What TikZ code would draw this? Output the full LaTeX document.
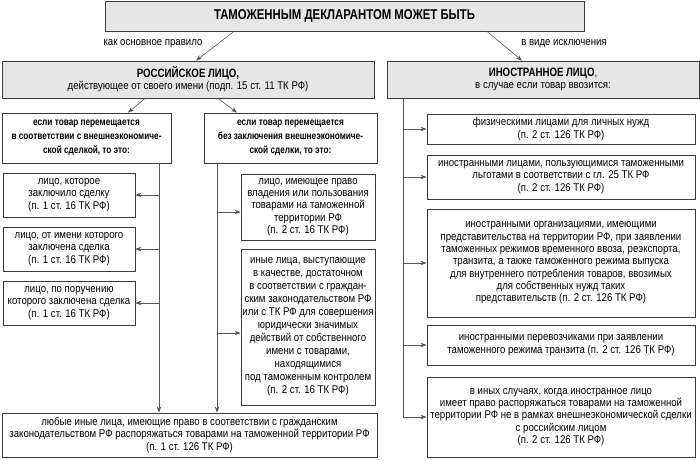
\documentclass[tikz,border=0pt]{standalone}
\usepackage{fontspec}
\setmainfont{Liberation Sans}[FakeStretch=0.86, BoldFeatures={FakeStretch=0.8}]
\usetikzlibrary{arrows.meta,calc}
\definecolor{graybg}{HTML}{E6E6E6}
\definecolor{boxc}{HTML}{3A3A3A}
\definecolor{linec}{HTML}{555555}
\newcommand\bx[7]{\node[#2, minimum width={#5-#3}, minimum height={#6-#4}] (#1) at ({(#3+#5)/2},{(#4+#6)/2}) {#7};}
\tikzset{
  box/.style={draw=boxc, line width=0.8pt, fill=white, inner sep=0pt, align=center, text=black,
    font=\fontsize{11.2}{12.3}\selectfont},
  gbox/.style={box, fill=graybg},
  cbox/.style={box, font=\fontsize{10.3}{13.8}\selectfont\bfseries},
  arr/.style={draw=linec, line width=0.6pt, -{Stealth[length=6pt,width=4.5pt]}},
  lbl/.style={inner sep=0pt, font=\fontsize{11.2}{12.3}\selectfont}
}
\begin{document}
\begin{tikzpicture}[x=1pt,y=-1pt]
\useasboundingbox (0,0) rectangle (700,460);
\bx{top}{gbox}{105}{1}{584}{31}{\fontsize{14.2}{16}\selectfont\bfseries ТАМОЖЕННЫМ ДЕКЛАРАНТОМ МОЖЕТ БЫТЬ}
\bx{rus}{gbox}{2}{61}{374}{98}{{\fontsize{12.1}{14}\selectfont\bfseries РОССИЙСКОЕ ЛИЦО,}\\действующее от своего имени (подп. 15 ст. 11 ТК РФ)}
\bx{for}{gbox}{387}{61}{699}{98}{{\fontsize{12.1}{14}\selectfont\bfseries ИНОСТРАННОЕ ЛИЦО},\\в случае если товар ввозится:}
\bx{c1}{cbox}{2}{113}{171}{163}{если товар перемещается\\в соответствии с внешнеэкономиче-\\ской сделкой, то это:}
\bx{c2}{cbox}{204}{113}{377}{163}{если товар перемещается\\без заключения внешнеэкономиче-\\ской сделки, то это:}
\bx{L1}{box}{3}{173}{135}{217}{лицо, которое\\заключило сделку\\(п. 1 ст. 16 ТК РФ)}
\bx{L2}{box}{3}{227}{135}{271}{лицо, от имени которого\\заключена сделка\\(п. 1 ст. 16 ТК РФ)}
\bx{L3}{box}{3}{281}{135}{325}{лицо, по поручению\\которого заключена сделка\\(п. 1 ст. 16 ТК РФ)}
\bx{A}{box}{241}{174}{375}{240}{лицо, имеющее право\\владения или пользования\\товарами на таможенной\\территории РФ\\(п. 2 ст. 16 ТК РФ)}
\bx{B}{box, font=\fontsize{11.2}{13}\selectfont}{241}{249}{375}{405}{иные лица, выступающие\\в качестве, достаточном\\в соответствии с граждан-\\ским законодательством РФ\\или с ТК РФ для совершения\\юридически значимых\\действий от собственного\\имени с товарами,\\находящимися\\под таможенным контролем\\(п. 2 ст. 16 ТК РФ)}
\bx{bot}{box}{2}{413}{377}{457}{любые иные лица, имеющие право в соответствии с гражданским\\законодательством РФ распоряжаться товарами на таможенной территории РФ\\(п. 1 ст. 126 ТК РФ)}
\bx{F1}{box}{427}{114}{695}{144}{физическими лицами для личных нужд\\(п. 2 ст. 126 ТК РФ)}
\bx{F2}{box}{427}{155}{695}{199}{иностранными лицами, пользующимися таможенными\\льготами в соответствии с гл. 25 ТК РФ\\(п. 2 ст. 126 ТК РФ)}
\bx{F3}{box}{427}{209}{695}{317}{иностранными организациями, имеющими\\представительства на территории РФ, при заявлении\\таможенных режимов временного ввоза, реэкспорта,\\транзита, а также таможенного режима выпуска\\для внутреннего потребления товаров, ввозимых\\для собственных нужд таких\\представительств (п. 2 ст. 126 ТК РФ)}
\bx{F4}{box}{427}{325}{695}{365}{иностранными перевозчиками при заявлении\\таможенного режима транзита (п. 2 ст. 126 ТК РФ)}
\bx{F5}{box}{427}{377}{695}{457}{в иных случаях, когда иностранное лицо\\имеет право распоряжаться товарами на таможенной\\территории РФ не в рамках внешнеэкономической сделки\\с российским лицом\\(п. 2 ст. 126 ТК РФ)}
% labels
\node[lbl] (lab1) at (153,44) {как основное правило};
\node[lbl] (lab2) at (564,44) {в виде исключения};
% top level arrows
\draw[arr] ([xshift=-110.5pt]top.south) -- ([xshift=8pt]rus.north);
\draw[arr] ([xshift=142.5pt]top.south) -- ([xshift=-21pt]for.north);
\draw[arr] ([xshift=-43pt]rus.south) -- ([xshift=41.5pt]c1.north);
\draw[arr] ([xshift=30pt]rus.south) -- ([xshift=-53.5pt]c2.north);
% trunks
\coordinate (tr1) at (159,163);
\coordinate (tr2) at (217,163);
\coordinate (tr3) at (403,98);
\draw[arr] (tr1) -- (tr1 |- bot.north);
\draw[arr] (tr2) -- (tr2 |- bot.north);
\draw[arr] (tr1 |- L1.east) -- (L1.east);
\draw[arr] (tr1 |- L2.east) -- (L2.east);
\draw[arr] (tr1 |- L3.east) -- (L3.east);
\draw[arr] ([yshift=-5pt]tr2 |- A.west) -- ([yshift=-5pt]A.west);
\draw[arr] ([yshift=-6pt]tr2 |- B.west) -- ([yshift=-6pt]B.west);
\draw[draw=linec, line width=0.6pt] (tr3) -- (tr3 |- F5.west);
\draw[arr] (tr3 |- F1.west) -- (F1.west);
\draw[arr] (tr3 |- F2.west) -- (F2.west);
\draw[arr] (tr3 |- F3.west) -- (F3.west);
\draw[arr] (tr3 |- F4.west) -- (F4.west);
\draw[arr] (tr3 |- F5.west) -- (F5.west);
\end{tikzpicture}
\end{document}
